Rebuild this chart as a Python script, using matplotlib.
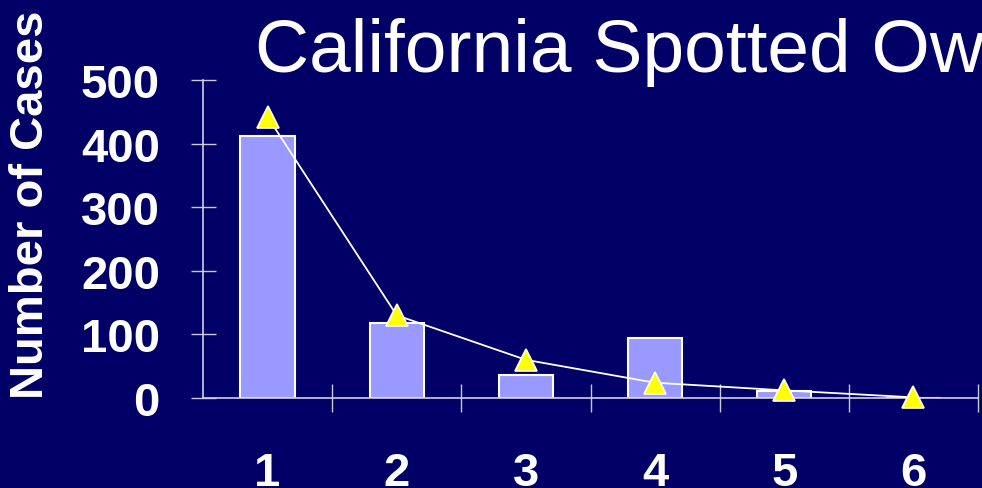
import matplotlib
matplotlib.use("Agg")
import matplotlib.pyplot as plt
from matplotlib.ticker import FixedLocator

# data
categories = [1, 2, 3, 4, 5, 6]
bar_cases = [412, 118, 36, 94, 11, 0]
trend_cases = [442, 130, 60, 24, 12, 1]
y_ticks = [0, 100, 200, 300, 400, 500]

BG = "#000066"
BAR = "#9999FF"

plt.rcParams["font.family"] = ["Liberation Sans", "DejaVu Sans"]

fig = plt.figure(figsize=(9.82, 4.89), dpi=100, facecolor=BG)
ax = fig.add_axes([203 / 982, 90 / 489, 775 / 982, 318 / 489])
ax.set_facecolor(BG)

ax.bar(categories, bar_cases, width=0.42, color=BAR, edgecolor="white", linewidth=1.5, zorder=2)
ax.plot(categories, trend_cases, color="white", linewidth=1.3, marker="^", markersize=16,
        markerfacecolor="#FFFF00", markeredgecolor="white", markeredgewidth=1.2, zorder=3,
        clip_on=False)

ax.set_xlim(0.5, 6.5)
ax.set_ylim(0, 500)

for s in ["top", "right"]:
    ax.spines[s].set_visible(False)
for s in ["left", "bottom"]:
    ax.spines[s].set_color("#D0D0E0")
    ax.spines[s].set_linewidth(1.2)

ax.set_yticks(y_ticks)
ax.tick_params(axis="y", direction="inout", length=18, width=1, color="#C8C8DA",
               labelcolor="white", labelsize=34, pad=22)
for t in ax.get_yticklabels():
    t.set_fontweight("bold")

# category labels sit between boundary ticks, and run off the bottom edge like the original
ax.set_xticks(categories)
ax.xaxis.set_minor_locator(FixedLocator([1.5, 2.5, 3.5, 4.5, 5.5, 6.5]))
ax.tick_params(axis="x", which="major", length=0, labelcolor="white", labelsize=34, pad=38)
ax.tick_params(axis="x", which="minor", direction="inout", length=20, width=1, color="#C8C8DA")
for t in ax.get_xticklabels():
    t.set_fontweight("bold")

fig.text(31 / 982, 1 - 205 / 489, "Number of Cases", rotation=90, color="white",
         fontsize=34, fontweight="bold", ha="center", va="center")
fig.text(255 / 982, 1 - 72 / 489, "California Spotted Owl", color="white",
         fontsize=54, ha="left", va="baseline")

fig.savefig("out.png", dpi=100, facecolor=BG)
